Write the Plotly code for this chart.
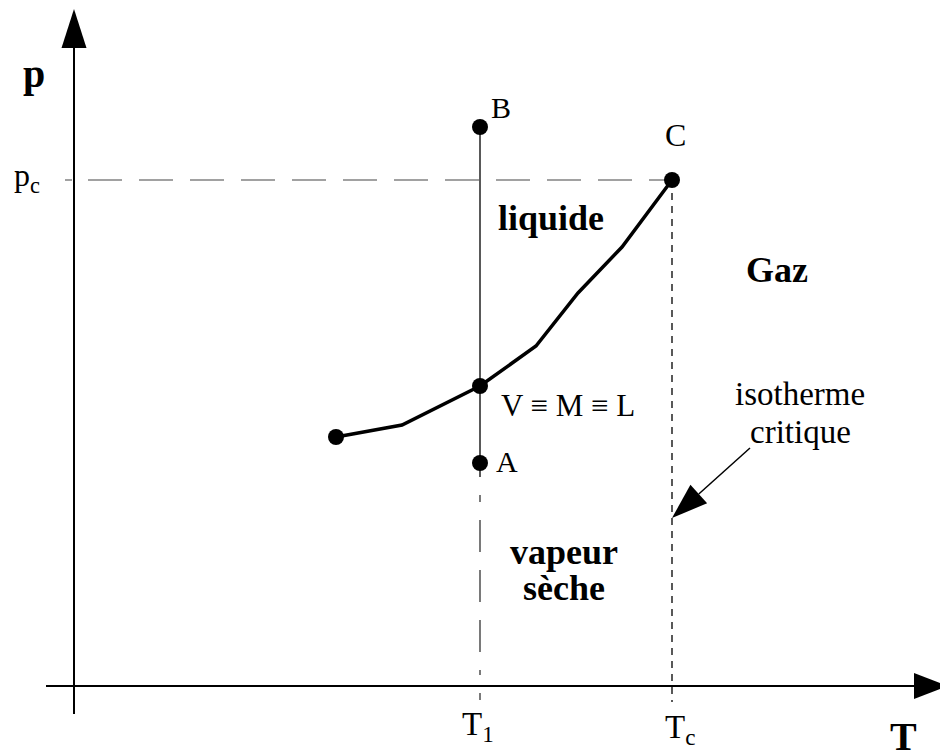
import math
import plotly.graph_objects as go

# ---------------- data (arbitrary units, origin at axes crossing) ----------------
T1 = 406          # isotherm T1
Tc = 598          # critical temperature
pc = 506          # critical pressure

# vaporisation curve (ends at critical point C)
curve_T = [262, 328, 406, 462, 504, 548, 598]
curve_p = [249, 261, 300, 340, 393, 439, 506]

# labelled points
point_labels = ["B", "V", "A", "C", ""]
point_T = [406, 406, 406, 598, 262]
point_p = [559, 300, 223, 506, 249]

# T1 isotherm: solid part (B -> just below A) and dashed part (down past axis)
iso1_solid_p = [559, 209]
iso1_dash_p = [191, -16]
# critical isotherm (dashed)
isoc_p = [506, -16]
# p = pc line
pc_line_T = [-9, 598]

# axes extents
T_axis = [-28, 840]
p_axis = [-28, 638]
T_tip, p_tip = 874, 677

# annotation arrow ("isotherme critique")
arrow_tail = (676, 238)
arrow_tip = (598, 168)

FONT = "Liberation Serif, Times New Roman, serif"
BLACK = "#000000"

fig = go.Figure()

# axes lines
fig.add_trace(go.Scatter(x=T_axis, y=[0, 0], mode="lines",
                         line=dict(color=BLACK, width=2), hoverinfo="skip"))
fig.add_trace(go.Scatter(x=[0, 0], y=p_axis, mode="lines",
                         line=dict(color=BLACK, width=2), hoverinfo="skip"))

# pc dash line
fig.add_trace(go.Scatter(x=pc_line_T, y=[pc, pc], mode="lines",
                         line=dict(color="#444444", width=1.2,
                                   dash="7px,16px" + ",34px,17px" * 12),
                         hoverinfo="skip"))

# T1 isotherm
fig.add_trace(go.Scatter(x=[T1, T1], y=iso1_solid_p, mode="lines",
                         line=dict(color="#222222", width=1.5), hoverinfo="skip"))
fig.add_trace(go.Scatter(x=[T1, T1], y=iso1_dash_p, mode="lines",
                         line=dict(color="#333333", width=1.3,
                                   dash="7px,18px,32px,18px,32px,18px,32px,18px,5px,18px,7px"),
                         hoverinfo="skip"))

# critical isotherm
fig.add_trace(go.Scatter(x=[Tc, Tc], y=isoc_p, mode="lines",
                         line=dict(color=BLACK, width=1.3, dash="7px,6px"),
                         hoverinfo="skip"))

# vaporisation curve
fig.add_trace(go.Scatter(x=curve_T, y=curve_p, mode="lines",
                         line=dict(color=BLACK, width=3.5), hoverinfo="skip"))

# points
fig.add_trace(go.Scatter(x=point_T, y=point_p, mode="markers",
                         marker=dict(color=BLACK, size=16), hoverinfo="skip"))


def head_path(tip, tail, length, half_w):
    dx, dy = tip[0] - tail[0], tip[1] - tail[1]
    n = math.hypot(dx, dy)
    ux, uy = dx / n, dy / n
    bx, by = tip[0] - length * ux, tip[1] - length * uy
    px, py = -uy * half_w, ux * half_w
    return (f"M {bx + px},{by + py} L {tip[0]},{tip[1]} L {bx - px},{by - py} Z",
            (bx, by))


path_iso, base_iso = head_path(arrow_tip, arrow_tail, 36, 12.5)
fig.add_trace(go.Scatter(x=[arrow_tail[0], base_iso[0]], y=[arrow_tail[1], base_iso[1]],
                         mode="lines", line=dict(color=BLACK, width=1.5), hoverinfo="skip"))

path_p, _ = head_path((0, p_tip), (0, p_axis[1] - 10), p_tip - p_axis[1], 12.5)
path_T, _ = head_path((T_tip, 0), (T_axis[1] - 10, 0), T_tip - T_axis[1], 13)

shapes = [dict(type="path", path=p_, xref="x", yref="y", fillcolor=BLACK,
               line=dict(width=0)) for p_ in (path_iso, path_p, path_T)]

ann = []


def txt(x, y, text, size, bold=False, xs=0, ys=0, xanchor="center", yanchor="middle"):
    t = f"<b>{text}</b>" if bold else text
    ann.append(dict(x=x, y=y, xref="x", yref="y", text=t, showarrow=False,
                    xanchor=xanchor, yanchor=yanchor, xshift=xs, yshift=ys,
                    font=dict(family=FONT, size=size, color=BLACK)))


# axis labels
txt(0, p_tip, "p", 40, bold=True, xs=-40, ys=-64)
txt(T_tip, 0, "T", 40, bold=True, xs=-45, ys=-50)
txt(0, pc, "p<sub>c</sub>", 32, xs=-32, ys=3, xanchor="right")
txt(T1, 0, "T<sub>1</sub>", 33, xs=-2, ys=-40)
txt(Tc, 0, "T<sub>c</sub>", 33, xs=8, ys=-43)

# point labels
txt(point_T[0], point_p[0], "B", 30, xs=21, ys=20)
txt(point_T[1], point_p[1], "V ≡ M ≡ L", 31, xs=88, ys=-19)
txt(point_T[2], point_p[2], "A", 30, xs=27, ys=2)
txt(point_T[3], point_p[3], "C", 32, xs=3, ys=45)

# region labels
txt(477, 468, "liquide", 36, bold=True)
txt(703, 416, "Gaz", 36, bold=True)
txt(490, 134, "vapeur", 36, bold=True)
txt(490, 98, "sèche", 36, bold=True)
txt(726, 292, "isotherme", 33)
txt(726, 254, "critique", 33)

fig.update_layout(
    width=940, height=745,
    margin=dict(l=0, r=0, t=0, b=0),
    paper_bgcolor="white", plot_bgcolor="white",
    showlegend=False,
    xaxis=dict(visible=False, range=[-66, 874], fixedrange=True),
    yaxis=dict(visible=False, range=[-67, 678], fixedrange=True),
    shapes=shapes, annotations=ann,
)

fig.write_html("out.html")
